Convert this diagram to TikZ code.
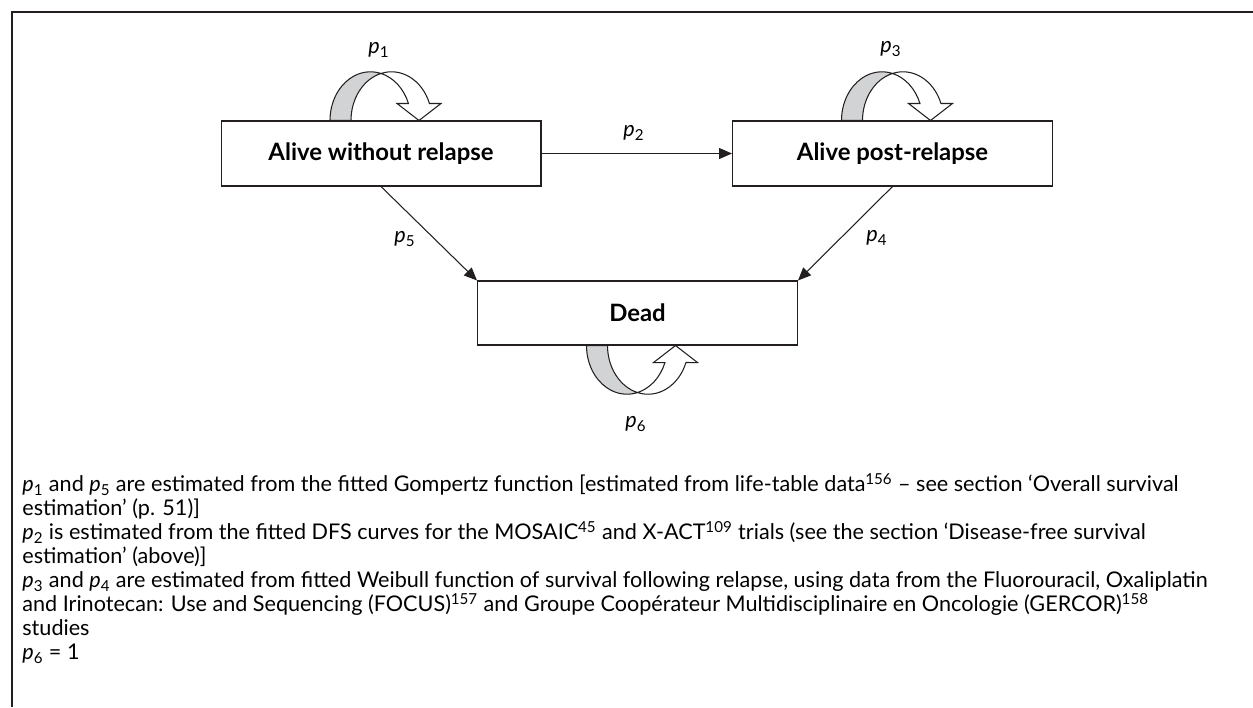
\documentclass[tikz,border=0pt]{standalone}
\usepackage{fontspec}
\setmainfont{Lato}
\usepackage{tikz}
\usetikzlibrary{positioning, arrows.meta, calc}

\definecolor{inkline}{HTML}{231F20}
\definecolor{ribbongray}{HTML}{D1D3D4}

\newcommand{\diagfont}{\fontsize{12.3}{13.66}\selectfont}
\newcommand{\prb}[1]{\textit{p}\textsubscript{#1}}

\begin{document}
\begin{tikzpicture}[x=0.02cm, y=0.02cm, font=\diagfont,
	statebox/.style={draw=inkline, line width=0.6pt, minimum width=6.4cm, minimum height=1.3cm, font=\fontsize{13.6}{15}\selectfont\bfseries},
	trans/.style={-{Triangle[length=2.6mm, width=2.2mm]}, draw=inkline, line width=0.6pt},
	notes/.style={align=left, inner sep=0pt, anchor=north west},
	selfloop/.pic={
		% back of the ribbon
		\filldraw[fill=ribbongray, draw=inkline, line width=0.6pt] (-51,0)
			arc[start angle=180, end angle=74.97, x radius=40.5, y radius=48.7]
			arc[start angle=105.03, end angle=180, x radius=40.5, y radius=48.7] -- cycle;
		% front of the ribbon and its head
		\filldraw[fill=white, draw=inkline, line width=0.6pt] (0,47.03)
			arc[start angle=105.03, end angle=20.43, x radius=40.5, y radius=48.7]
			-- (60,17) -- (38,0) -- (16,17) -- (27.45,17)
			arc[start angle=20.43, end angle=74.97, x radius=40.5, y radius=48.7] -- cycle;
	}]
	\useasboundingbox (0,0) rectangle (1253,-707);
	
	% Frame
	\draw[inkline, line width=1pt] (12,-707) -- (12,-12) -- (1253,-12);
	
	% States
	\node[statebox] (alive) at (381,-153.5) {Alive without relapse};
	\node[statebox] (relapse) at (892.5,-153.5) {Alive post-relapse};
	\node[statebox, minimum height=1.28cm] (dead) at (637.5,-313) {Dead};
	
	% Staying in the same state
	\pic at (alive.north) {selfloop};
	\pic at (relapse.north) {selfloop};
	\pic[yscale=-1] at (dead.south) {selfloop};
	
	% Moving between states
	\draw[trans] (alive) -- (relapse);
	\draw[trans] (alive.south) -- (dead.north west);
	\draw[trans] (relapse.south) -- (dead.north east);
	
	% Probabilities
	\node (p1) at (379,-50) {\prb{1}};
	\node (p2) at (634,-133) {\prb{2}};
	\node (p3) at (891,-49) {\prb{3}};
	\node (p4) at (877,-238) {\prb{4}};
	\node (p5) at (405,-239) {\prb{5}};
	\node (p6) at (636,-424) {\prb{6}};
	
	% Notes
	\node[notes] (legend) at (22,-473) {%
		\prb{1} and \prb{5} are estimated from the fitted Gompertz function [estimated from life-table data\textsuperscript{156} -- see section `Overall survival\\
		estimation' (p. 51)]\\
		\prb{2} is estimated from the fitted DFS curves for the MOSAIC\textsuperscript{45} and X-ACT\textsuperscript{109} trials (see the section `Disease-free survival\\
		estimation' (above)]\\
		\prb{3} and \prb{4} are estimated from fitted Weibull function of survival following relapse, using data from the Fluorouracil, Oxaliplatin\\
		and Irinotecan: Use and Sequencing (FOCUS)\textsuperscript{157} and Groupe Coopérateur Multidisciplinaire en Oncologie (GERCOR)\textsuperscript{158}\\
		studies\\
		\prb{6} = 1};
\end{tikzpicture}
\end{document}
